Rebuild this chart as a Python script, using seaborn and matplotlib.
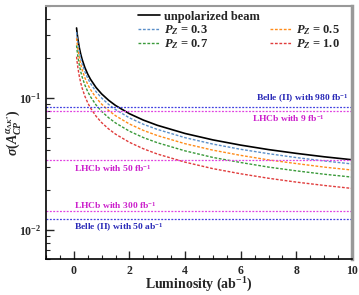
import numpy as np
import pandas as pd
import matplotlib
matplotlib.use("Agg")
import matplotlib.pyplot as plt
import seaborn as sns
from matplotlib.lines import Line2D

# ---- data ----
lumi = [0.1, 0.12, 0.15, 0.2, 0.25, 0.3, 0.4, 0.5, 0.6, 0.8, 1.0, 1.25, 1.5,
        2, 2.5, 3, 4, 5, 6, 7, 8, 9, 10]
unpol = [0.340, 0.3103, 0.2776, 0.2404, 0.2150, 0.1963, 0.1700, 0.1520, 0.1388,
         0.1202, 0.1075, 0.0962, 0.0878, 0.0760, 0.0680, 0.0621, 0.0538, 0.0481,
         0.0439, 0.0406, 0.0380, 0.0358, 0.0340]
pz03 = [0.316, 0.2886, 0.2582, 0.2236, 0.2000, 0.1826, 0.1581, 0.1414, 0.1291,
        0.1118, 0.1000, 0.0895, 0.0817, 0.0707, 0.0632, 0.0578, 0.0500, 0.0447,
        0.0408, 0.0378, 0.0353, 0.0333, 0.0316]
pz05 = [0.2842, 0.2594, 0.2321, 0.2010, 0.1797, 0.1641, 0.1421, 0.1271, 0.1160,
        0.1005, 0.0899, 0.0804, 0.0734, 0.0635, 0.0568, 0.0519, 0.0450, 0.0402,
        0.0367, 0.0339, 0.0318, 0.0299, 0.0284]
pz07 = [0.2506, 0.2287, 0.2046, 0.1772, 0.1585, 0.1447, 0.1253, 0.1120, 0.1023,
        0.0886, 0.0792, 0.0709, 0.0647, 0.0560, 0.0501, 0.0458, 0.0397, 0.0354,
        0.0324, 0.0299, 0.0280, 0.0264, 0.0251]
pz10 = [0.2060, 0.1880, 0.1682, 0.1457, 0.1303, 0.1190, 0.1030, 0.0921, 0.0841,
        0.0728, 0.0651, 0.0583, 0.0532, 0.0461, 0.0412, 0.0376, 0.0326, 0.0291,
        0.0266, 0.0246, 0.0230, 0.0217, 0.0206]

ref_values = [0.086, 0.080, 0.0337, 0.0138, 0.0120]
ref_labels = [r"Belle (II) with 980 fb$^{-1}$", r"LHCb with 9 fb$^{-1}$",
              r"LHCb with 50 fb$^{-1}$", r"LHCb with 300 fb$^{-1}$",
              r"Belle (II) with 50 ab$^{-1}$"]

series_names = ["unpolarized beam", "0.3", "0.5", "0.7", "1.0"]

# ---- style ----
sns.set_style("ticks")
plt.rcParams["font.family"] = ["Liberation Serif", "DejaVu Serif"]
plt.rcParams["font.weight"] = "bold"
plt.rcParams["mathtext.fontset"] = "custom"
plt.rcParams["mathtext.rm"] = "Liberation Serif:bold"
plt.rcParams["mathtext.it"] = "Liberation Serif:italic:bold"
plt.rcParams["mathtext.bf"] = "Liberation Serif:bold"

fig = plt.figure(figsize=(3.59, 2.95), dpi=100)
ax = fig.add_axes([0.128, 0.122, 0.8525, 0.858])

df = pd.DataFrame({"L": lumi * 5,
                   "sigma": unpol + pz03 + pz05 + pz07 + pz10,
                   "series": sum([[n] * len(lumi) for n in series_names], [])})

colors = {"unpolarized beam": "black", "0.3": "#5b8fc9", "0.5": "#ff8c1a",
          "0.7": "#3a9a3a", "1.0": "#e03c3c"}
dash = (2.0, 1.2)
for name in series_names:
    sub = df[df["series"] == name]
    if name == "unpolarized beam":
        sns.lineplot(data=sub, x="L", y="sigma", ax=ax, color=colors[name], lw=1.2)
    else:
        sns.lineplot(data=sub, x="L", y="sigma", ax=ax, color=colors[name],
                     lw=1.0, dashes=False, linestyle=(0, dash))

ref_line_colors = ["#4040e0", "#e040e0", "#e040e0", "#e040e0", "#4040e0"]
ref_text_colors = ["#2a2ab8", "#cc22cc", "#cc22cc", "#cc22cc", "#2a2ab8"]
for v, c in zip(ref_values, ref_line_colors):
    ax.axhline(v, color=c, lw=0.9, linestyle=(0, (1.5, 1.2)))

text_pos = [(9.9, 0.089, "right", "bottom"), (6.4, 0.0695, "left", "center"),
            (0.0, 0.0293, "left", "center"), (0.0, 0.0153, "left", "center"),
            (0.0, 0.0104, "left", "center")]
for (x, y, ha, va), lab, c in zip(text_pos, ref_labels, ref_text_colors):
    ax.text(x, y, lab, color=c, fontsize=6.8, fontweight="bold", ha=ha, va=va)

ax.set_yscale("log")
ax.set_xlim(-1, 10)
ax.set_ylim(0.006, 0.5)
ax.set_xticks([0, 2, 4, 6, 8, 10])
ax.set_xticks(np.arange(-1, 10.01, 0.5), minor=True)
ax.tick_params(axis="both", which="major", direction="in", length=6, width=1,
               labelsize=8.5, right=False, top=False)
ax.tick_params(axis="both", which="minor", direction="in", length=3, width=0.8,
               right=False, top=False)
ax.tick_params(axis="x", pad=4)
for lbl in ax.get_xticklabels() + ax.get_yticklabels():
    lbl.set_fontweight("bold")

ax.set_xlabel(r"Luminosity (ab$^{-1}$)", fontsize=10, fontweight="bold")
ax.xaxis.set_label_coords(0.5, -0.068)
ax.set_ylabel(r"$\sigma(A_{CP}^{\alpha_{\Lambda K^{*}}})$", fontsize=10)
ax.yaxis.set_label_coords(-0.075, 0.5)

for s in ["left", "bottom"]:
    ax.spines[s].set_color("black")
    ax.spines[s].set_linewidth(1.2)
for s in ["top", "right"]:
    ax.spines[s].set_color("#999999")
    ax.spines[s].set_linewidth(1.5)
ax.spines["right"].set_linewidth(2.5)

handles = [Line2D([], [], color="black", lw=1.2),
           Line2D([], [], color=colors["0.3"], lw=1.0, linestyle=(0, dash)),
           Line2D([], [], color=colors["0.7"], lw=1.0, linestyle=(0, dash)),
           Line2D([], [], color="none"),
           Line2D([], [], color=colors["0.5"], lw=1.0, linestyle=(0, dash)),
           Line2D([], [], color=colors["1.0"], lw=1.0, linestyle=(0, dash))]
labels = ["unpolarized beam", r"$P_{Z}$ = 0.3", r"$P_{Z}$ = 0.7", "",
          r"$P_{Z}$ = 0.5", r"$P_{Z}$ = 1.0"]
leg = ax.legend(handles, labels, ncol=2, loc="upper right",
                bbox_to_anchor=(0.985, 1.01), frameon=False, fontsize=9,
                handlelength=1.8, handletextpad=0.3, columnspacing=0.8,
                labelspacing=0.02, borderaxespad=0.2)
for t in leg.get_texts():
    t.set_fontweight("bold")

fig.savefig("out.png", dpi=100)
